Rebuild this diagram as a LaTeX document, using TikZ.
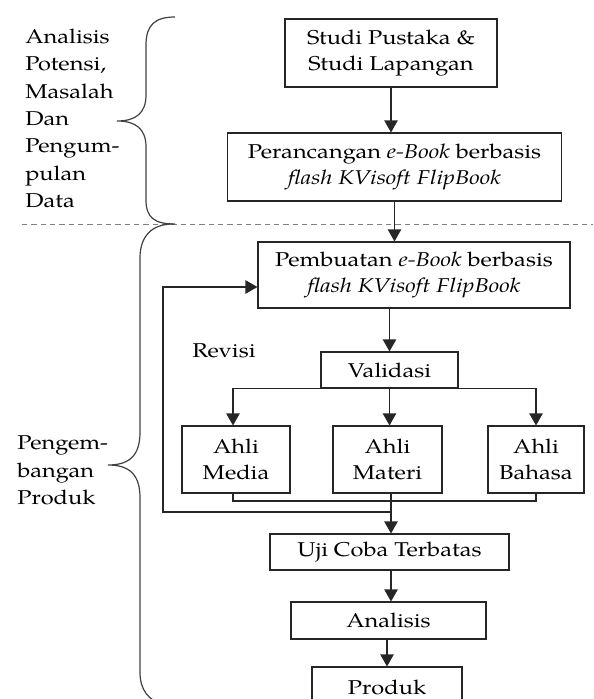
\documentclass[tikz,border=0pt]{standalone}
\usepackage{fontspec}
\setmainfont{texgyrepagella}[Extension=.otf,UprightFont=*-regular,BoldFont=*-bold,ItalicFont=*-italic,BoldItalicFont=*-bolditalic,FakeStretch=1.18]
\usetikzlibrary{arrows.meta}
\tikzset{
  box/.style={draw=black!85, line width=0.8pt, align=center, inner sep=2pt,
    font=\fontsize{15}{19.5}\selectfont},
  arr/.style={-{Triangle[width=10pt,length=9pt]}, line width=0.8pt, black!85},
  ln/.style={line width=0.8pt, black!85},
  side/.style={align=left, anchor=west, inner sep=0pt, font=\fontsize{15}{20.5}\selectfont},
  brace/.style={line width=0.9pt, black!75},
}

\begin{document}
\begin{tikzpicture}[x=0.75pt,y=-0.75pt]
    \useasboundingbox (0,0) rectangle (593,699);
    % tahap 1
    \node[box, minimum width=159pt, minimum height=51pt] (studi) at (391,53) {Studi Pustaka \&\\Studi Lapangan};
    \node[box, minimum width=251pt, minimum height=51pt] (rancang) at (394.5,167)
      {Perancangan \textit{e-Book} berbasis\\\textit{flash KVisoft FlipBook}};
    \draw[arr] (studi.south) -- (studi.south |- rancang.north);
    % garis batas
    \draw[gray, line width=0.7pt, dash pattern=on 4pt off 3pt] (22,224) -- (593,224);
    % tahap 2
    \node[box, minimum width=234pt, minimum height=49.5pt] (buat) at (414,275)
      {Pembuatan \textit{e-Book} berbasis\\\textit{flash KVisoft FlipBook}};
    \draw[arr] (rancang.south) -- (rancang.south |- buat.north);
    \node[box, minimum width=102.75pt, minimum height=27pt] (validasi) at (389.5,370) {Validasi};
    \draw[arr] (buat.south -| validasi.north) -- (validasi.north);
    \node[side] (revisi) at (192,351) {Revisi};
    \node[box, minimum width=81pt, minimum height=50.25pt] (media) at (236,459.5) {Ahli\\Media};
    \node[box, minimum width=81.75pt, minimum height=50.25pt] (materi) at (387.5,459.5) {Ahli\\Materi};
    \node[box, minimum width=72pt, minimum height=50.25pt] (bahasa) at (536,459.5) {Ahli\\Bahasa};
    \draw[arr] (validasi.south) -| ([xshift=-2.25pt]media.north);
    \draw[arr] (validasi.south) -| (bahasa.north);
    \draw[arr] (validasi.south) -- (validasi.south |- materi.north);
    \node[box, minimum width=179.25pt, minimum height=27pt] (uji) at (389.5,552) {Uji Coba Terbatas};
    \node[box, minimum width=146.25pt, minimum height=27.75pt] (analisis) at (388.5,620.5) {Analisis};
    \node[box, minimum width=112.5pt, minimum height=30pt] (produk) at (387,687) {Produk};
    \coordinate (gabung) at (391,501);
    \coordinate (balik) at (391,512);
    \coordinate (kiri) at (163,512);
    \draw[ln] ([xshift=-2.25pt]media.south) |- (gabung) -| (bahasa.south);
    \draw[arr] (gabung |- materi.south) -- (gabung |- uji.north);
    \draw[arr] (balik) -- (kiri) |- ([yshift=-9pt]buat.west);
    \draw[arr] (uji.south -| gabung) -- (analisis.north -| gabung);
    \draw[arr] (analisis.south -| produk.north) -- (produk.north);
    % kurung kurawal
    \draw[brace] (175,17) .. controls (155,17) and (146,25) .. (146,45) -- (146,95)
      .. controls (146,113) and (136,121) .. (117,121) .. controls (136,121) and (146,129) .. (146,147)
      -- (146,200) .. controls (146,218) and (155,224) .. (175,224);
    \draw[brace] (173,224) .. controls (152,224) and (140,236) .. (140,258) -- (140,432)
      .. controls (140,455) and (130,465) .. (108,465) .. controls (130,465) and (140,475) .. (140,498)
      -- (140,672) .. controls (140,690) and (148,700) .. (165,706);
    \node[side] (tahapa) at (25,118.5) {Analisis\\Potensi,\\Masalah\\Dan\\Pengum-\\pulan\\Data};
    \node[side] (tahapb) at (17,470.5) {Pengem-\\bangan\\Produk};
\end{tikzpicture}
\end{document}
